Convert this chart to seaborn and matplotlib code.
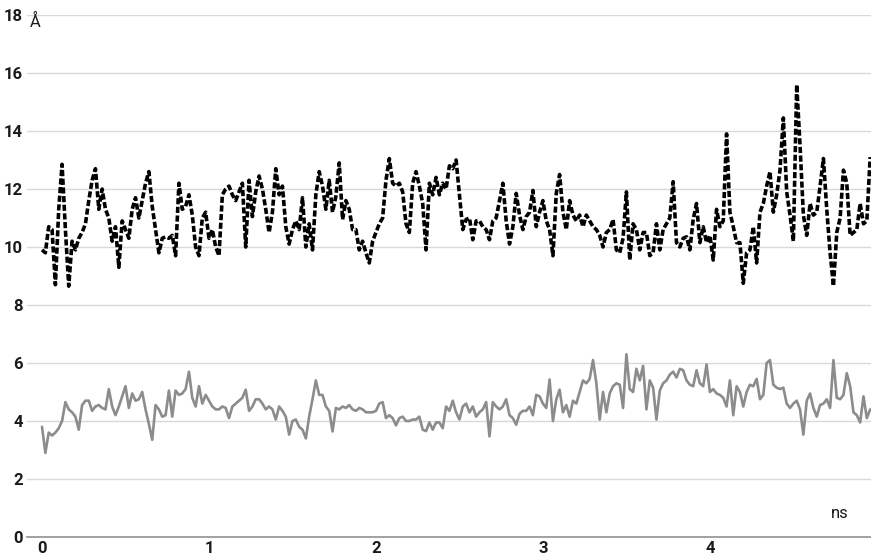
import numpy as np
import pandas as pd
import matplotlib
matplotlib.use("Agg")
import matplotlib.pyplot as plt
import seaborn as sns

# ---- data ----
dt_ns = 0.02  # sampling interval, ns

dist_dashed = [
    9.9, 9.8, 10.7, 10.6, 8.7, 11.3, 12.85, 10.6, 8.65, 10.2,
    9.9, 10.3, 10.5, 10.8, 11.6, 12.3, 12.7, 11.3, 12.0, 11.3,
    11.0, 10.2, 10.7, 9.3, 10.9, 10.6, 10.3, 11.3, 11.7, 11.0,
    11.6, 12.2, 12.6, 11.4, 10.6, 9.8, 10.3, 10.35, 10.3, 10.4,
    9.7, 12.2, 11.3, 11.4, 11.8, 11.1, 10.0, 9.7, 11.0, 11.2,
    10.3, 10.6, 10.0, 9.7, 11.8, 12.0, 12.1, 11.8, 11.6, 11.9,
    12.2, 10.0, 12.3, 11.05, 11.9, 12.45, 12.0, 11.3, 10.5, 11.2,
    12.7, 11.8, 12.1, 10.7, 10.1, 10.6, 10.9, 10.6, 11.7, 10.0,
    10.8, 9.9, 11.8, 12.6, 12.1, 11.3, 12.3, 11.2, 11.75, 12.9,
    10.95, 11.6, 11.3, 10.6, 10.6, 9.9, 10.2, 9.8, 9.45, 10.2,
    10.5, 10.8, 11.0, 12.3, 13.05, 12.2, 12.1, 12.2, 11.9, 10.8,
    10.5, 12.2, 12.6, 12.1, 11.5, 9.9, 12.2, 11.8, 12.4, 11.8,
    12.2, 12.0, 12.8, 12.7, 13.0, 11.8, 10.6, 10.95, 11.0, 10.25,
    10.9, 10.9, 10.7, 10.6, 10.25, 10.9, 11.0, 11.6, 12.2, 10.9,
    10.1, 10.7, 11.85, 11.1, 10.6, 11.05, 11.2, 11.95, 10.7, 11.2,
    11.6, 10.9, 10.6, 9.7, 11.85, 12.5, 11.2, 10.6, 11.6, 11.1,
    10.9, 11.1, 10.7, 11.1, 10.9, 10.7, 10.6, 10.4, 10.0, 10.5,
    10.6, 10.95, 9.9, 9.8, 10.3, 11.9, 9.55, 10.8, 10.6, 9.9,
    10.5, 10.5, 9.7, 9.8, 10.8, 9.9, 10.6, 10.8, 11.0, 12.25,
    10.15, 10.0, 10.3, 10.35, 9.9, 10.95, 11.5, 10.15, 10.7, 10.15,
    10.4, 9.55, 11.3, 10.7, 10.9, 13.9, 11.2, 10.7, 10.15, 10.15,
    8.75, 9.8, 9.9, 10.7, 9.45, 11.2, 11.5, 12.1, 12.6, 11.2,
    11.8, 12.65, 14.45, 11.9, 11.1, 10.2, 15.6, 13.5, 11.1, 10.4,
    11.5, 11.1, 11.2, 12.1, 13.05, 11.3, 9.8, 8.65, 10.5, 11.0,
    12.65, 12.2, 10.4, 10.5, 10.6, 11.5, 10.8, 10.9, 13.1,
]

dist_solid = [
    3.8, 2.9, 3.6, 3.5, 3.6, 3.75, 4.0, 4.65, 4.4, 4.3,
    4.15, 3.7, 4.55, 4.7, 4.7, 4.35, 4.5, 4.55, 4.45, 4.4,
    5.1, 4.5, 4.2, 4.5, 4.85, 5.2, 4.45, 4.95, 4.7, 4.75,
    5.0, 4.4, 3.9, 3.35, 4.55, 4.4, 4.15, 4.2, 5.05, 4.15,
    5.05, 4.9, 4.95, 5.1, 5.7, 4.8, 4.5, 5.2, 4.6, 4.9,
    4.7, 4.5, 4.4, 4.4, 4.5, 4.45, 4.1, 4.5, 4.6, 4.7,
    4.8, 5.08, 4.35, 4.5, 4.75, 4.75, 4.6, 4.4, 4.5, 4.4,
    4.05, 4.5, 4.35, 4.15, 3.53, 4.0, 4.05, 3.8, 3.7, 3.4,
    4.15, 4.75, 5.4, 4.9, 4.9, 4.5, 4.35, 3.64, 4.45, 4.4,
    4.5, 4.45, 4.55, 4.4, 4.35, 4.45, 4.4, 4.3, 4.3, 4.3,
    4.35, 4.6, 4.65, 4.1, 4.2, 4.1, 3.85, 4.1, 4.15, 4.0,
    4.0, 4.05, 4.05, 4.15, 3.7, 3.65, 3.95, 3.7, 3.95, 3.95,
    3.75, 4.5, 4.35, 4.7, 4.3, 4.05, 4.5, 4.6, 4.3, 4.5,
    4.15, 4.3, 4.4, 4.65, 3.47, 4.65, 4.5, 4.4, 4.5, 4.75,
    4.2, 4.1, 3.87, 4.25, 4.35, 4.35, 4.5, 4.2, 4.9, 4.85,
    4.6, 4.45, 5.43, 4.0, 4.75, 5.08, 4.3, 4.55, 4.15, 4.7,
    4.6, 5.0, 5.4, 5.3, 5.45, 6.1, 5.3, 4.05, 5.0, 4.3,
    4.95, 5.2, 5.3, 5.25, 4.45, 6.3, 5.1, 5.0, 5.8, 5.4,
    5.9, 4.4, 5.4, 5.15, 4.05, 5.05, 5.3, 5.4, 5.6, 5.7,
    5.5, 5.8, 5.75, 5.4, 5.25, 5.2, 5.75, 5.3, 5.2, 5.95,
    5.0, 5.1, 4.95, 4.9, 4.8, 4.5, 5.4, 4.2, 5.2, 5.0,
    4.5, 5.0, 5.25, 5.2, 5.45, 4.75, 4.9, 6.0, 6.1, 5.25,
    5.15, 5.1, 5.15, 4.6, 4.45, 4.6, 4.7, 4.4, 3.53, 4.7,
    4.95, 4.45, 4.15, 4.55, 4.6, 4.75, 4.45, 6.1, 4.8, 4.75,
    4.9, 5.65, 5.2, 4.3, 4.2, 3.95, 4.85, 4.1, 4.4,
]

x_ticks = [0, 1, 2, 3, 4]
y_ticks = [0, 2, 4, 6, 8, 10, 12, 14, 16, 18]
y_unit = "Å"
x_unit = "ns"

# ---- build frames ----
df_d = pd.DataFrame({"t": np.arange(len(dist_dashed)) * dt_ns, "d": dist_dashed})
df_s = pd.DataFrame({"t": np.arange(len(dist_solid)) * dt_ns, "d": dist_solid})

sns.set_style("white")
plt.rcParams["font.family"] = ["Roboto", "DejaVu Sans"]

W, H = 871, 559
fig = plt.figure(figsize=(W / 100, H / 100), dpi=100)
ax = fig.add_axes([27 / W, 22 / H, 844 / W, 522 / H])

sns.lineplot(data=df_s, x="t", y="d", ax=ax, color="#8c8c8c", linewidth=1.9,
             estimator=None, sort=False)
sns.lineplot(data=df_d, x="t", y="d", ax=ax, color="black", linewidth=2.6,
             estimator=None, sort=False, dashes=False)
ax.lines[-1].set_dashes((1.7, 0.7))

ax.set_xlim(-0.09, 4.965)
ax.set_ylim(0, 18)
ax.set_xticks(x_ticks)
ax.set_yticks(y_ticks)
ax.set_xticklabels([str(v) for v in x_ticks], fontweight="bold", fontsize=12)
ax.set_yticklabels([str(v) for v in y_ticks], fontweight="bold", fontsize=12)
ax.tick_params(axis="both", length=0, colors="#1a1a1a")
ax.tick_params(axis="x", pad=3)
ax.tick_params(axis="y", pad=3)
ax.set_xlabel("")
ax.set_ylabel("")

ax.yaxis.grid(True, color="#d9d9d9", linewidth=1.0)
ax.xaxis.grid(False)
ax.set_axisbelow(True)
for side in ["top", "right", "left"]:
    ax.spines[side].set_visible(False)
ax.spines["bottom"].set_color("#9a9a9a")
ax.spines["bottom"].set_linewidth(1.3)

fig.text(30 / W, 1 - 22 / H, y_unit, fontsize=12, ha="left", va="center", color="#1a1a1a")
fig.text(840 / W, 1 - 513 / H, x_unit, fontsize=12, ha="center", va="center", color="#1a1a1a")

fig.savefig("out.png", dpi=100)
